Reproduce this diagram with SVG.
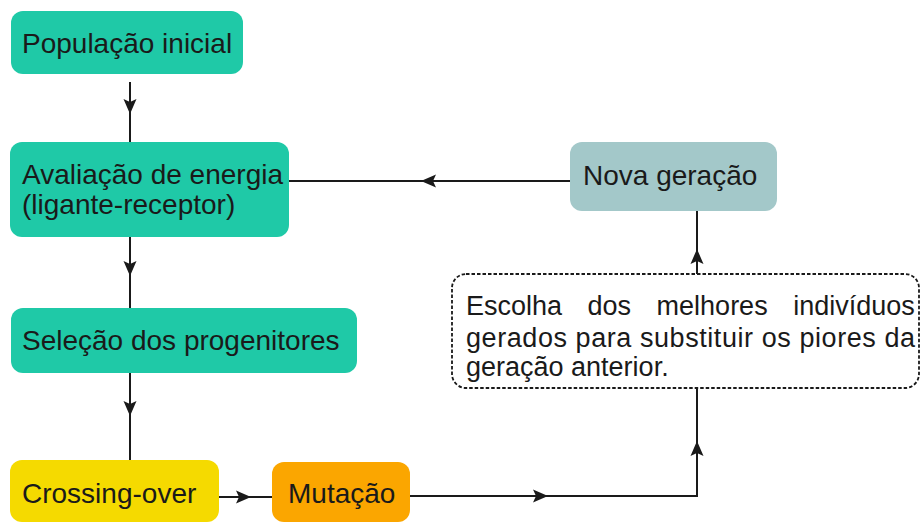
<svg xmlns="http://www.w3.org/2000/svg" width="922" height="524" viewBox="0 0 922 524">
<defs>
<marker id="ah" markerUnits="userSpaceOnUse" markerWidth="15" markerHeight="14" refX="14" refY="7" orient="auto">
<path d="M0,0.5 L15,7 L0,13.5 L3,7 z" fill="#1a1a1a"/>
</marker>
<style>
.t{font-family:"Liberation Sans",Arial,sans-serif;font-size:28px;fill:#1a1a1a}
.s{font-family:"Liberation Sans",Arial,sans-serif;font-size:27px;fill:#1a1a1a}
.teal{fill:#1fc9a7}
.c{stroke:#1a1a1a;stroke-width:2;fill:none}
</style>
</defs>
<rect width="922" height="524" fill="#ffffff"/>
<g id="connectors">
<line class="c" x1="130" y1="82" x2="130" y2="113" marker-end="url(#ah)"/>
<line class="c" x1="130" y1="112" x2="130" y2="142"/>
<line class="c" x1="130" y1="237" x2="130" y2="275" marker-end="url(#ah)"/>
<line class="c" x1="130" y1="274" x2="130" y2="308"/>
<line class="c" x1="130" y1="373" x2="130" y2="415" marker-end="url(#ah)"/>
<line class="c" x1="130" y1="414" x2="130" y2="460"/>
<line class="c" x1="219" y1="497" x2="250" y2="497" marker-end="url(#ah)"/>
<line class="c" x1="249" y1="497" x2="272" y2="497"/>
<line class="c" x1="410" y1="496" x2="547" y2="496" marker-end="url(#ah)"/>
<polyline class="c" points="546,496 697,496 697,443"/>
<path class="c" d="M697,444 L697,442" marker-end="url(#ah)"/>
<line class="c" x1="697" y1="443" x2="697" y2="388"/>
<line class="c" x1="697" y1="274" x2="697" y2="250" marker-end="url(#ah)"/>
<line class="c" x1="697" y1="251" x2="697" y2="211"/>
<line class="c" x1="570" y1="181" x2="422" y2="181" marker-end="url(#ah)"/>
<line class="c" x1="423" y1="181" x2="289" y2="181"/>
</g>
<g id="n1">
<rect class="teal" x="11" y="11" width="232" height="63" rx="12"/>
<text class="t" x="22" y="53">População inicial</text>
</g>
<g id="n2">
<rect class="teal" x="10" y="142" width="279" height="95" rx="12"/>
<text class="t" x="22" y="184">Avaliação de energia</text>
<text class="t" x="22" y="214">(ligante-receptor)</text>
</g>
<g id="n3">
<rect class="teal" x="11" y="308" width="346" height="65" rx="12"/>
<text class="t" x="22" y="350">Seleção dos progenitores</text>
</g>
<g id="n4">
<rect x="10" y="460" width="209" height="62" rx="12" fill="#f5da00"/>
<text class="t" x="22" y="503">Crossing-over</text>
</g>
<g id="n5">
<rect x="272" y="462" width="138" height="60" rx="12" fill="#fba600"/>
<text class="t" x="288" y="503">Mutação</text>
</g>
<g id="n6">
<rect x="570" y="142" width="207" height="69" rx="12" fill="#a3c8c9"/>
<text class="t" x="583" y="185">Nova geração</text>
</g>
<g id="n7">
<rect x="452" y="274" width="467" height="114" rx="14" fill="none" stroke="#1a1a1a" stroke-width="1.8" stroke-dasharray="3.5 2"/>
<text class="s" x="466" y="315" word-spacing="18">Escolha dos melhores indivíduos</text>
<text class="s" x="466" y="347" textLength="449" lengthAdjust="spacing">gerados para substituir os piores da</text>
<text class="s" x="466" y="376">geração anterior.</text>
</g>
</svg>
